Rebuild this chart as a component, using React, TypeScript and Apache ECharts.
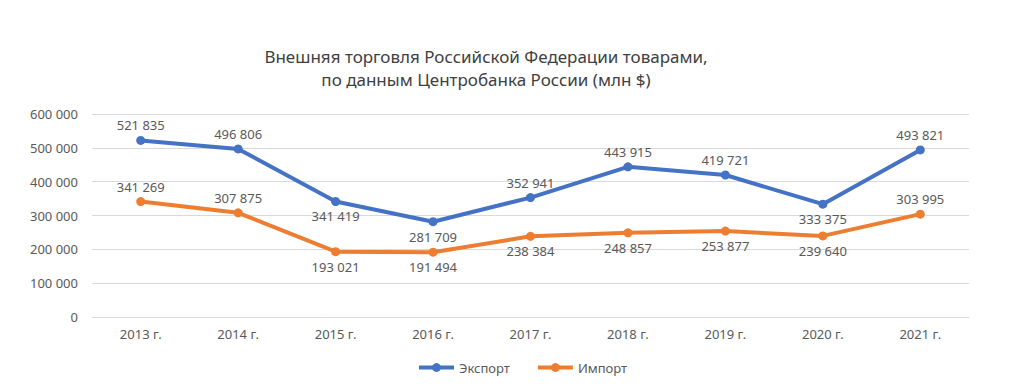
import React, { useEffect, useRef } from "react";
import * as echarts from "echarts";

const categories = ["2013 г.", "2014 г.", "2015 г.", "2016 г.", "2017 г.", "2018 г.", "2019 г.", "2020 г.", "2021 г."];
const exportValues = [521835, 496806, 341419, 281709, 352941, 443915, 419721, 333375, 493821];
const importValues = [341269, 307875, 193021, 191494, 238384, 248857, 253877, 239640, 303995];
const exportLabelPos = ["top", "top", "bottom", "bottom", "top", "top", "top", "bottom", "top"];
const importLabelPos = ["top", "top", "bottom", "bottom", "bottom", "bottom", "bottom", "bottom", "top"];

const FONT = "'Noto Sans', 'Open Sans', sans-serif";
const fmt = (v: number) => String(v).replace(/\B(?=(\d{3})+(?!\d))/g, " ");

export default function App() {
  const ref = useRef<HTMLDivElement>(null);
  useEffect(() => {
    if (!ref.current) return;
    const chart = echarts.init(ref.current, undefined, { renderer: "svg" });
    const mk = (name: string, values: number[], pos: string[], color: string) => ({
      name,
      type: "line",
      data: values.map((v, i) => ({
        value: v,
        label: { position: pos[i] },
      })),
      symbol: "circle",
      symbolSize: 9,
      lineStyle: { width: 4, color },
      itemStyle: { color },
      label: {
        show: true,
        distance: 4,
        color: "#595959",
        fontSize: 13,
        fontFamily: FONT,
        formatter: (p: any) => fmt(p.value),
      },
    });
    chart.setOption({
      animation: false,
      backgroundColor: "#ffffff",
      textStyle: { fontFamily: FONT },
      title: {
        text: "Внешняя торговля Российской Федерации товарами,\nпо данным Центробанка России (млн $)",
        left: 481,
        textAlign: "center",
        top: 40,
        textStyle: { fontSize: 17, fontWeight: "normal", color: "#404040", lineHeight: 23, fontFamily: FONT },
      },
      legend: {
        bottom: 13,
        left: 412,
        itemWidth: 35,
        itemHeight: 11,
        itemGap: 26,
        lineStyle: { width: 4 },
        textStyle: { color: "#595959", fontSize: 13, fontFamily: FONT },
        data: ["Экспорт", "Импорт"],
      },
      grid: { left: 92, right: 55, top: 114, bottom: 75 },
      xAxis: {
        type: "category",
        data: categories,
        boundaryGap: true,
        axisLine: { show: true, lineStyle: { color: "#d9d9d9" } },
        axisTick: { show: false },
        axisLabel: { color: "#595959", fontSize: 13, margin: 10, fontFamily: FONT },
      },
      yAxis: {
        type: "value",
        min: 0,
        max: 600000,
        interval: 100000,
        axisLine: { show: false },
        axisTick: { show: false },
        splitLine: { lineStyle: { color: "#d9d9d9", width: 1 } },
        axisLabel: { color: "#595959", fontSize: 13, margin: 14, fontFamily: FONT, formatter: (v: number) => fmt(v) },
      },
      series: [
        mk("Экспорт", exportValues, exportLabelPos, "#4472C4"),
        mk("Импорт", importValues, importLabelPos, "#ED7D31"),
      ],
    });
    return () => chart.dispose();
  }, []);
  return <div ref={ref} style={{ width: 1024, height: 392, position: "absolute", left: 0, top: 0 }} />;
}
